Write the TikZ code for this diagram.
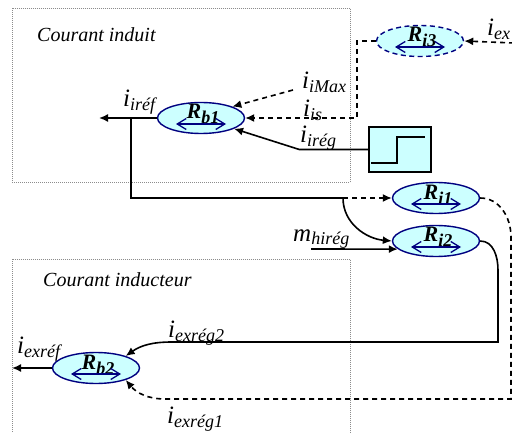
\documentclass[tikz,border=0pt]{standalone}
\usepackage{fontspec}
\setmainfont{Liberation Serif}
\usetikzlibrary{arrows.meta,shapes.geometric}
\definecolor{regfill}{HTML}{CCFFFF}
\definecolor{regdraw}{HTML}{000080}
\definecolor{zonegray}{HTML}{8C8C8C}
\tikzset{
  regul/.style={draw=regdraw, line width=1.4pt, ellipse, fill=regfill, inner sep=0pt,
                minimum width=87pt, minimum height=31pt},
  regulopt/.style={regul, dash pattern=on 5pt off 3.5pt},
  reglbl/.style={font=\fontsize{22}{22}\selectfont\bfseries\itshape, inner sep=0pt, anchor=base},
  twoway/.style={{Straight Barb[length=9pt,width=11pt]}-{Straight Barb[length=9pt,width=11pt]},
                 draw=regdraw, line width=1.3pt},
  zone/.style={draw=zonegray, line width=0.7pt, dash pattern=on 1pt off 1pt, inner sep=0pt},
  zonelbl/.style={font=\fontsize{20}{20}\selectfont\itshape, inner sep=0pt, anchor=base west},
  stepbox/.style={draw=black, line width=1.4pt, fill=regfill, minimum width=62pt,
                  minimum height=45pt, inner sep=0pt},
  sig/.style={-{Latex[length=9pt,width=8pt]}, line width=1.6pt},
  sigd/.style={sig, dash pattern=on 5pt off 4pt},
  wire/.style={line width=1.6pt},
  lbl/.style={font=\fontsize{25}{25}\selectfont\itshape, inner sep=0pt, anchor=base west},
}
\newcommand{\sub}[1]{\raisebox{-4pt}{\fontsize{18}{18}\selectfont #1}}
\newcommand{\rsub}[1]{\raisebox{-5pt}{\fontsize{18}{18}\selectfont #1}}
\newcommand{\regsym}[1]{\draw[twoway] ([xshift=-25pt,yshift=-6pt]#1.center) -- ([xshift=25pt,yshift=-6pt]#1.center);}

\begin{document}
\begin{tikzpicture}[x=1pt,y=1pt]
\useasboundingbox (0,0) rectangle (512,432);
% zones
\node[zone, anchor=north west, minimum width=338pt, minimum height=174pt] (zind) at (12,424) {};
\node[zone, anchor=north west, minimum width=338pt, minimum height=200pt] (zinduc) at (12,173) {};
\node[zonelbl] (tind) at (37,390) {Courant induit};
\node[zonelbl] (tinduc) at (43,146) {Courant inducteur};
% regulators
\node[regul] (rb1) at (201,314) {};
\node[regulopt] (ri3) at (420,391) {};
\node[regul] (ri1) at (436,234) {};
\node[regul] (ri2) at (436,191) {};
\node[regul] (rb2) at (96,64) {};
\node[stepbox] (step) at (400,282.5) {};
\draw[line width=1.4pt] ([shift={(-29pt,-13.5pt)}]step.center) -| ([shift={(-3pt,12.5pt)}]step.center)
   -- ([shift={(25pt,12.5pt)}]step.center);
\foreach \r/\s in {rb1/b1,ri3/i3,ri1/i1,ri2/i2,rb2/b2}{
  \node[reglbl] (\r l) at ([xshift=2pt,yshift=-1pt]\r.center) {R\rsub{\s}};
  \regsym{\r}
}
% free ends
\coordinate (irefout) at (99,314);
\coordinate (br) at (131,314);
\coordinate (bj) at (343,234);
\coordinate (mstart) at (311,183);
\coordinate (imax) at (293,342);
\coordinate (iex) at (514,389);
\coordinate (iexrefout) at (12,64);
% armature current loop
\draw[sig] (rb1.west) -- (irefout);
\draw[wire] (br) |- (bj);
\draw[sigd] (bj) -- (ri1.west);
\draw[sig] (bj) to[out=-90,in=175] (ri2.west);
\draw[sig] (mstart) -- (ri2.192);
\draw[sigd] (imax) -- (rb1.20);
\draw[sigd] (ri3.west) -- ++(-19,0) |- (rb1.east);
\draw[sig] (step.west) -- ++(-69,0) -- (rb1.-18);
\draw[sigd] (iex) -- (ri3.east);
% field current loop
\draw[sigd] (ri1.east) to[out=0,in=90] (511,195) -- (511,33) -- (165,33) to[out=180,in=-50] (rb2.-22);
\draw[sig] (ri2.east) to[out=0,in=90] (498,162) -- (498,90) -- (172,90) to[out=180,in=35] (rb2.22);
\draw[sig] (rb2.west) -- (iexrefout);
% signal names
\node[lbl] (liref) at (123,325) {i\sub{iréf}};
\node[lbl] (limax) at (302,343) {i\sub{iMax}};
\node[lbl] (lis) at (303,315) {i\sub{is}};
\node[lbl] (lireg) at (300,289) {i\sub{irég}};
\node[lbl] (lmh) at (293,191) {m\sub{hirég}};
\node[lbl] (liex) at (487,396) {i\sub{ex}};
\node[lbl] (lexreg2) at (168,95) {i\sub{exrég2}};
\node[lbl] (lexreg1) at (167,9) {i\sub{exrég1}};
\node[lbl] (lexref) at (17,79) {i\sub{exréf}};
\end{tikzpicture}
\end{document}
